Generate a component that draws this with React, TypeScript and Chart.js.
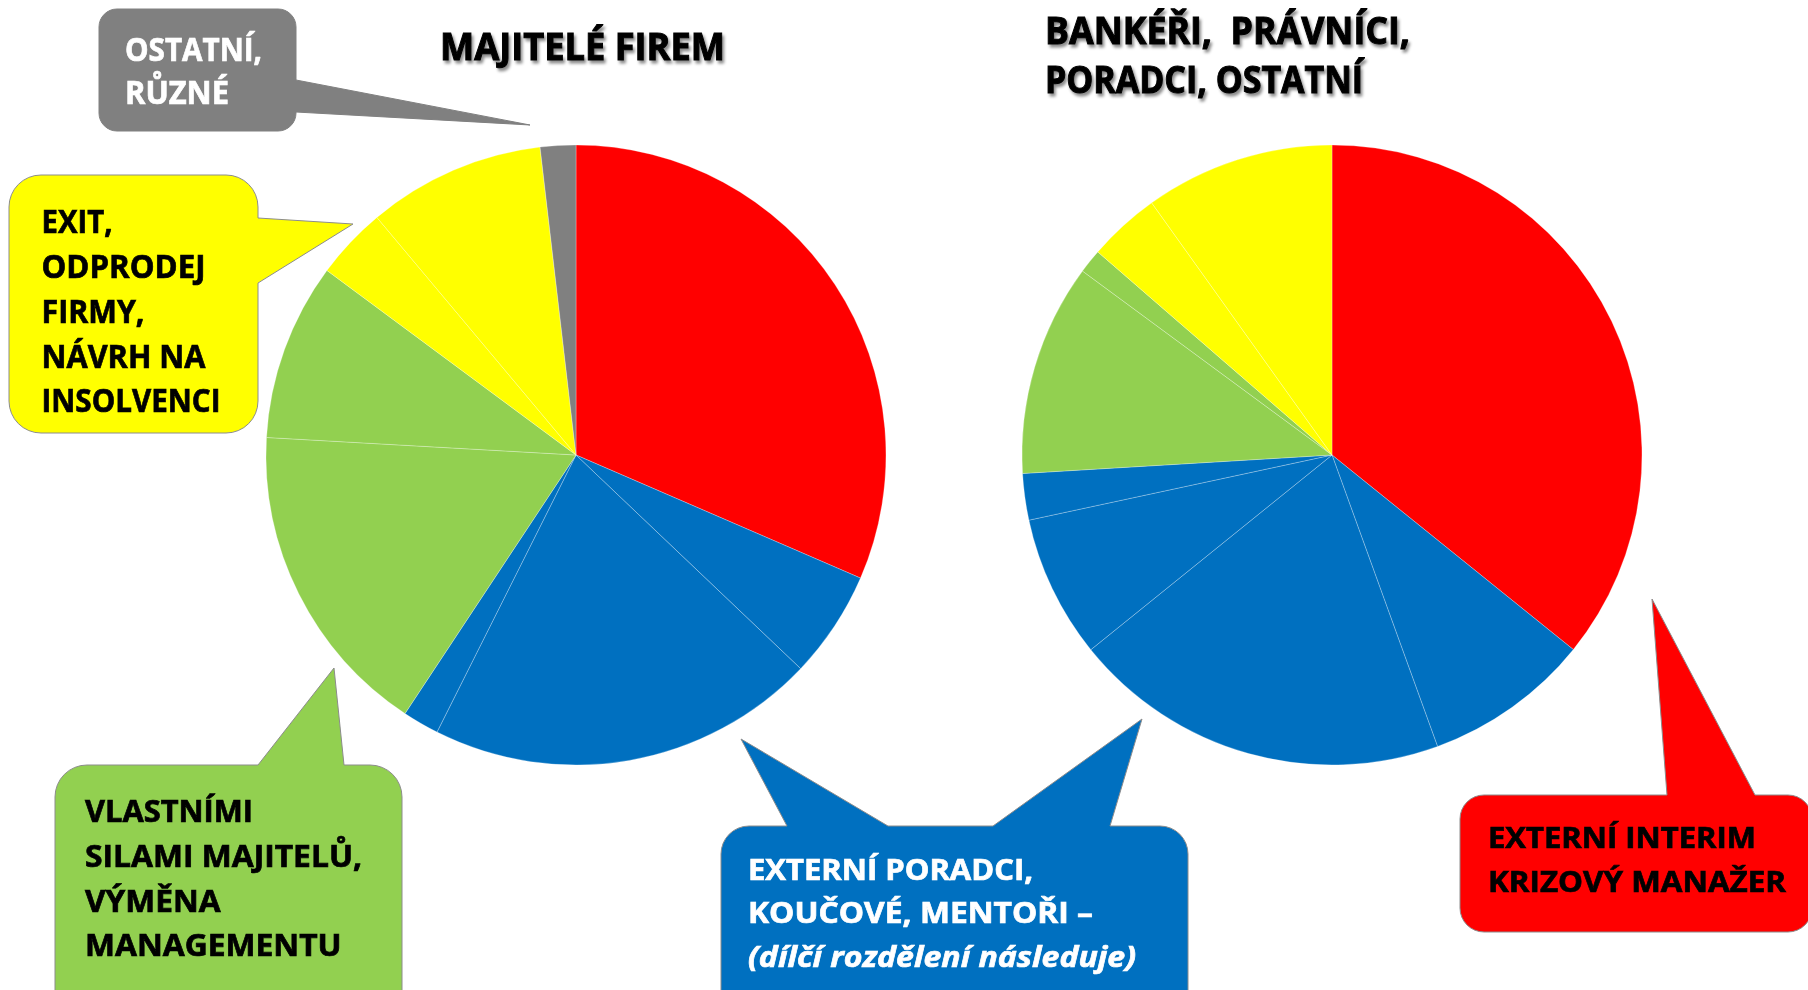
import React, { useEffect, useRef } from "react";
import { Chart, registerables } from "chart.js";

Chart.register(...registerables);

// ---------- DATA ----------
const leftTitle = "MAJITELÉ FIREM";
const rightTitleLines = ["BANKÉŘI,  PRÁVNÍCI,", "PORADCI, OSTATNÍ"];

const leftCategories = [
  "Externí interim krizový manažer",
  "Externí poradci – část 1",
  "Externí poradci – část 2",
  "Externí poradci – část 3",
  "Vlastními silami – část 1",
  "Vlastními silami – část 2",
  "Exit – část 1",
  "Exit – část 2",
  "Ostatní, různé",
];
const leftValues = [31.5, 5.6, 20.3, 1.9, 16.6, 9.25, 3.75, 9.25, 1.85];
const leftColors = ["#FF0000", "#0070C0", "#0070C0", "#0070C0", "#92D050", "#92D050", "#FFFF00", "#FFFF00", "#808080"];

const rightCategories = [
  "Externí interim krizový manažer",
  "Externí poradci – část 1",
  "Externí poradci – část 2",
  "Externí poradci – část 3",
  "Externí poradci – část 4",
  "Vlastními silami – část 1",
  "Vlastními silami – část 2",
  "Exit – část 1",
  "Exit – část 2",
];
const rightValues = [35.8, 8.67, 19.72, 7.44, 2.42, 11.06, 1.26, 3.75, 9.88];
const rightColors = ["#FF0000", "#0070C0", "#0070C0", "#0070C0", "#0070C0", "#92D050", "#92D050", "#FFFF00", "#FFFF00"];

const grayLines = ["OSTATNÍ,", "RŮZNÉ"];
const yellowLines = ["EXIT,", "ODPRODEJ", "FIRMY,", "NÁVRH NA", "INSOLVENCI"];
const greenLines = ["VLASTNÍMI", "SILAMI MAJITELŮ,", "VÝMĚNA", "MANAGEMENTU"];
const blueLines = ["EXTERNÍ PORADCI,", "KOUČOVÉ, MENTOŘI –", "(dílčí rozdělení následuje)"];
const redLines = ["EXTERNÍ INTERIM", "KRIZOVÝ MANAŽER"];

// ---------- LAYOUT ----------
const FONT = "'Open Sans', 'Liberation Sans', sans-serif";

type Ptr = [number, number, number, number];

function calloutPath(x1: number, y1: number, x2: number, y2: number, r: number, topPtrs: Ptr[], rightPtrs: Ptr[]) {
  let d = `M ${x1 + r} ${y1}`;
  for (const [a, b, tx, ty] of topPtrs) d += ` L ${a} ${y1} L ${tx} ${ty} L ${b} ${y1}`;
  d += ` L ${x2 - r} ${y1} A ${r} ${r} 0 0 1 ${x2} ${y1 + r}`;
  for (const [a, b, tx, ty] of rightPtrs) d += ` L ${x2} ${a} L ${tx} ${ty} L ${x2} ${b}`;
  d += ` L ${x2} ${y2 - r} A ${r} ${r} 0 0 1 ${x2 - r} ${y2}`;
  d += ` L ${x1 + r} ${y2} A ${r} ${r} 0 0 1 ${x1} ${y2 - r}`;
  d += ` L ${x1} ${y1 + r} A ${r} ${r} 0 0 1 ${x1 + r} ${y1} Z`;
  return d;
}

function PieChart({ labels, values, colors, left, top }: { labels: string[]; values: number[]; colors: string[]; left: number; top: number }) {
  const ref = useRef<HTMLCanvasElement>(null);
  useEffect(() => {
    const chart = new Chart(ref.current as HTMLCanvasElement, {
      type: "pie",
      data: {
        labels,
        datasets: [
          {
            data: values,
            backgroundColor: colors,
            borderColor: "rgba(255,255,255,0.45)",
            borderWidth: 0.6,
          },
        ],
      },
      options: {
        animation: false,
        responsive: false,
        radius: 310,
        events: [],
        layout: { padding: 0 },
        plugins: { legend: { display: false }, tooltip: { enabled: false } },
      },
    });
    return () => chart.destroy();
  }, []);
  return (
    <canvas
      ref={ref}
      width={640}
      height={640}
      style={{ position: "absolute", left, top, width: 640, height: 640 }}
    />
  );
}

function Lines({ lines, x, ys, widths, size, fill, italicLast, thick = 0.7 }: { lines: string[]; x: number; ys: number[]; widths: number[]; size: number; fill: string; italicLast?: boolean; thick?: number }) {
  return (
    <>
      {lines.map((t, i) => (
        <text
          key={i}
          x={x}
          y={ys[i]}
          fontFamily={FONT}
          fontWeight={700}
          fontStyle={italicLast && i === lines.length - 1 ? "italic" : "normal"}
          fontSize={size}
          fill={fill}
          stroke={fill}
          strokeWidth={thick}
          textLength={widths[i]}
          lengthAdjust="spacingAndGlyphs"
          style={{ whiteSpace: "pre" }}
        >
          {t}
        </text>
      ))}
    </>
  );
}

export default function App() {
  return (
    <div
      style={{
        position: "fixed",
        left: 0,
        top: 0,
        width: 1808,
        height: 990,
        overflow: "hidden",
        background: "#ffffff",
      }}
    >
      <PieChart labels={leftCategories} values={leftValues} colors={leftColors} left={256} top={135} />
      <PieChart labels={rightCategories} values={rightValues} colors={rightColors} left={1012} top={135} />
      <svg width={1808} height={990} style={{ position: "absolute", left: 0, top: 0 }}>
        <defs>
          <filter id="tshadow" x="-10%" y="-40%" width="120%" height="180%">
            <feDropShadow dx="2" dy="3" stdDeviation="1.6" floodColor="#000" floodOpacity="0.45" />
          </filter>
        </defs>

        {/* callouts */}
        <path d={calloutPath(99, 9, 296, 131, 18, [], [[80, 112, 530, 125]])} fill="#808080" stroke="#808080" strokeWidth={1} />
        <path d={calloutPath(9, 175, 258, 433, 32, [], [[218, 283, 353, 224]])} fill="#FFFF00" stroke="#8c8c8c" strokeWidth={1} />
        <path d={calloutPath(55, 765, 402, 1030, 32, [[258, 344, 334, 668]], [])} fill="#92D050" stroke="#8c8c8c" strokeWidth={1} />
        <path
          d={calloutPath(721, 826, 1188, 1030, 28, [[787, 888, 741, 739], [993, 1110, 1142, 719]], [])}
          fill="#0070C0"
          stroke="#8c8c8c"
          strokeWidth={1}
        />
        <path d={calloutPath(1460, 795, 1812, 932, 24, [[1667, 1755, 1652, 599]], [])} fill="#FF0000" stroke="#8c8c8c" strokeWidth={1} />

        {/* titles */}
        <g filter="url(#tshadow)">
          <Lines lines={[leftTitle]} x={440} ys={[60]} widths={[285]} size={37} fill="#000" thick={1} />
          <Lines lines={rightTitleLines} x={1045} ys={[44, 92.5]} widths={[365, 318]} size={37} fill="#000" thick={1} />
        </g>

        {/* callout texts */}
        <Lines lines={grayLines} x={125} ys={[61, 104]} widths={[137, 104]} size={32} fill="#ffffff" />
        <Lines lines={yellowLines} x={41.5} ys={[233, 278, 323, 368, 412]} widths={[71, 164, 103, 164, 179]} size={32} fill="#000" />
        <Lines lines={greenLines} x={85} ys={[821.7, 866.7, 911.7, 956]} widths={[168, 277, 135.5, 256.6]} size={30} fill="#000" />
        <Lines lines={blueLines} x={748} ys={[880, 923, 967]} widths={[285, 345, 388]} size={29} fill="#ffffff" italicLast />
        <Lines lines={redLines} x={1488} ys={[848.3, 892]} widths={[268, 298]} size={29} fill="#000" />
      </svg>
    </div>
  );
}
